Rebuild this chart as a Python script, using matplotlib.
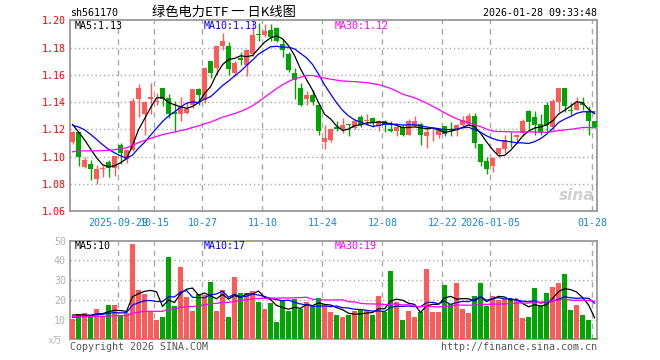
import numpy as np
import pandas as pd
import matplotlib
matplotlib.use("Agg")
import matplotlib.pyplot as plt

plt.rcParams['font.family'] = ['DejaVu Sans Mono', 'Noto Sans CJK SC']

# daily candles, 88 trading days (2025-09-17 .. 2026-01-28)
open_ = [1.111, 1.118, 1.0924, 1.0944, 1.0834, 1.0907, 1.0961, 1.0919, 1.1083, 1.0985,
         1.105, 1.142, 1.131, 1.142, 1.140, 1.150, 1.143, 1.1325, 1.1315, 1.132,
         1.138, 1.1495, 1.1415, 1.170, 1.165, 1.181, 1.181, 1.1613, 1.1723, 1.167,
         1.175, 1.190, 1.189, 1.193, 1.1945, 1.183, 1.175, 1.1615, 1.150, 1.142,
         1.1455, 1.138, 1.111, 1.112, 1.1215, 1.120, 1.124, 1.121, 1.129, 1.126,
         1.128, 1.1226, 1.1258, 1.1205, 1.119, 1.122, 1.116, 1.1226, 1.124, 1.115,
         1.1184, 1.1155, 1.1226, 1.1202, 1.120, 1.1233, 1.1238, 1.130, 1.1095, 1.097,
         1.0934, 1.102, 1.1057, 1.1142, 1.114, 1.1172, 1.1336, 1.129, 1.124, 1.1375,
         1.1215, 1.1404, 1.1505, 1.1338, 1.1344, 1.1393, 1.1335, 1.1258]
high = [1.119, 1.118, 1.100, 1.0973, 1.0937, 1.0937, 1.0973, 1.1005, 1.110, 1.105,
        1.143, 1.153, 1.141, 1.154, 1.147, 1.1505, 1.146, 1.141, 1.1435, 1.140,
        1.1495, 1.150, 1.1655, 1.170, 1.181, 1.191, 1.184, 1.170, 1.177, 1.179,
        1.200, 1.198, 1.197, 1.197, 1.195, 1.186, 1.177, 1.165, 1.154, 1.148,
        1.149, 1.1385, 1.123, 1.121, 1.126, 1.128, 1.124, 1.1275, 1.1307, 1.1315,
        1.129, 1.127, 1.127, 1.1263, 1.1233, 1.1233, 1.1275, 1.130, 1.125, 1.121,
        1.121, 1.121, 1.1226, 1.1253, 1.124, 1.1295, 1.132, 1.132, 1.1095, 1.100,
        1.0995, 1.1065, 1.116, 1.118, 1.1165, 1.1277, 1.134, 1.1336, 1.131, 1.140,
        1.1425, 1.1505, 1.1505, 1.139, 1.144, 1.144, 1.137, 1.126]
low = [1.109, 1.093, 1.0917, 1.0827, 1.0798, 1.0851, 1.0851, 1.0858, 1.0944, 1.0956,
       1.104, 1.129, 1.116, 1.131, 1.138, 1.137, 1.128, 1.118, 1.126, 1.131,
       1.136, 1.138, 1.139, 1.1575, 1.160, 1.178, 1.160, 1.159, 1.1675, 1.159,
       1.174, 1.185, 1.188, 1.185, 1.184, 1.173, 1.162, 1.142, 1.137, 1.1375,
       1.138, 1.116, 1.1058, 1.111, 1.119, 1.117, 1.115, 1.120, 1.122, 1.1233,
       1.1214, 1.119, 1.118, 1.118, 1.115, 1.115, 1.1155, 1.122, 1.1087, 1.106,
       1.1116, 1.1135, 1.115, 1.115, 1.1148, 1.122, 1.1222, 1.106, 1.0927, 1.087,
       1.0885, 1.0993, 1.1025, 1.1067, 1.1099, 1.115, 1.120, 1.116, 1.1155, 1.118,
       1.1196, 1.133, 1.133, 1.1307, 1.134, 1.1344, 1.1155, 1.121]
close = [1.118, 1.0993, 1.0973, 1.0907, 1.0907, 1.0919, 1.0919, 1.1005, 1.1024, 1.1049,
         1.141, 1.150, 1.140, 1.1435, 1.141, 1.1425, 1.1315, 1.1315, 1.1365, 1.135,
         1.1495, 1.1455, 1.165, 1.1613, 1.181, 1.185, 1.164, 1.169, 1.171, 1.178,
         1.189, 1.189, 1.1925, 1.1875, 1.185, 1.1785, 1.1638, 1.1563, 1.138, 1.1455,
         1.140, 1.1185, 1.1135, 1.1205, 1.120, 1.1233, 1.1235, 1.1263, 1.1233, 1.127,
         1.1245, 1.1258, 1.124, 1.119, 1.1214, 1.116, 1.1263, 1.1263, 1.1155, 1.118,
         1.1186, 1.120, 1.1165, 1.120, 1.1233, 1.127, 1.1295, 1.110, 1.096, 1.091,
         1.099, 1.1062, 1.1123, 1.114, 1.116, 1.1263, 1.1253, 1.1233, 1.118, 1.1233,
         1.141, 1.1505, 1.137, 1.1335, 1.1393, 1.1375, 1.1258, 1.1215]
# volume, 万手
volume = [10.2, 12.7, 13.4, 12.5, 15.3, 11.2, 17.3, 17.3, 11.7, 13.4,
          48.5, 24.9, 23.1, 14.1, 10.0, 11.1, 41.5, 16.7, 36.5, 21.2,
          14.1, 23.2, 22.4, 29.2, 14.1, 25.1, 11.1, 31.8, 23.7, 23.7,
          24.5, 18.8, 15.5, 18.3, 8.6, 19.7, 14.1, 20.6, 15.4, 18.7,
          16.6, 21.1, 16.7, 13.8, 12.2, 11.2, 12.2, 14.2, 14.7, 14.2,
          12.5, 21.9, 13.9, 34.6, 18.8, 9.8, 14.2, 11.2, 13.9, 35.6,
          13.9, 13.9, 27.5, 18.0, 28.5, 15.3, 13.4, 21.9, 28.5, 16.8,
          21.9, 19.7, 20.5, 20.2, 19.7, 10.8, 11.2, 25.8, 16.8, 23.4,
          26.4, 28.6, 33.0, 14.7, 17.3, 12.2, 9.8, 0.8]

# estimated closes / volumes of the 29 days before the window (only feed the MAs)
pre_close = [1.086, 1.089, 1.092, 1.090, 1.087, 1.086, 1.086, 1.083, 1.084, 1.085,
             1.090, 1.094, 1.097, 1.099, 1.101, 1.103, 1.104, 1.105, 1.106, 1.108,
             1.112, 1.118, 1.124, 1.128, 1.130, 1.127, 1.126, 1.124, 1.123]
pre_vol = [12, 10, 13, 11, 12, 14, 10, 11, 13, 12, 9, 11, 12, 13, 10, 12, 11, 12, 10, 13,
           9, 11, 10, 9, 10.5, 12, 14, 13, 12.3]

tick_idx = [8, 14, 22, 32, 42, 52, 62, 70, 87]
tick_lbl = ['2025-09-29', '10-15', '10-27', '11-10', '11-24', '12-08', '12-22', '2026-01-05', '01-28']
price_ticks = [1.06, 1.08, 1.10, 1.12, 1.14, 1.16, 1.18, 1.20]
vol_ticks = [10, 20, 30, 40, 50]

RED = '#ff5a5a'
GREEN = '#00a600'
GRID = '#aaaaaa'

n = len(close)
x = np.arange(n)
o = np.array(open_); c = np.array(close); h = np.array(high); l = np.array(low)
v = np.array(volume)
cols = [RED if cc >= oo else GREEN for oo, cc in zip(o, c)]

allc = pd.Series(pre_close + close)
allv = pd.Series(pre_vol + volume)
ma = {k: allc.rolling(k).mean().values[-n:] for k in (5, 10, 30)}
vma = {k: allv.rolling(k).mean().values[-n:] for k in (5, 10, 30)}

W, H = 660, 360
fig = plt.figure(figsize=(6.6, 3.6), dpi=100)

def box(l_, t_, r_, b_):
    return [l_ / W, 1 - b_ / H, (r_ - l_) / W, (b_ - t_) / H]

axp = fig.add_axes(box(70, 20.4, 597, 211))
axv = fig.add_axes(box(70, 240.7, 597, 339.3))

xl = (-0.42, 87.4)
grid_x = x[tick_idx] - 0.37

for ax in (axp, axv):
    ax.set_xlim(*xl)
    for s in ax.spines.values():
        s.set_color('#999999'); s.set_linewidth(1.3)
    for gx in grid_x:
        ax.axvline(gx, color=GRID, lw=1, ls=(0, (4, 3.5)), zorder=0)
    ax.tick_params(length=0)

# price panel
axp.vlines(x, l, h, colors=cols, lw=1, zorder=2)
body = np.maximum(np.abs(c - o), 0.00035)
axp.bar(x, body, bottom=np.minimum(o, c), width=0.78, color=cols, zorder=3)
axp.plot(x, ma[5], color='black', lw=0.9, zorder=4)
axp.plot(x, ma[10], color='#0000ff', lw=0.9, zorder=4)
axp.plot(x, ma[30], color='#ff00ff', lw=0.9, zorder=4)
axp.set_ylim(1.06, 1.20)
axp.set_yticks(price_ticks)
axp.set_yticklabels(['%.2f' % t for t in price_ticks], color='#ff0000', fontsize=7.2)
for t in price_ticks[1:-1]:
    axp.axhline(t, color=GRID, lw=1, ls=(0, (1, 2)), zorder=0)
axp.set_xticks(grid_x)
axp.set_xticklabels(tick_lbl, color='#1a87cf', fontsize=7.2)
axp.tick_params(axis='x', pad=5)
axp.tick_params(axis='y', pad=3)

# volume panel
axv.bar(x, v, width=0.78, color=cols, zorder=3)
axv.plot(x, vma[5], color='black', lw=0.9, zorder=4)
axv.plot(x, vma[10], color='#0000ff', lw=0.9, zorder=4)
axv.plot(x, vma[30], color='#ff00ff', lw=0.9, zorder=4)
axv.set_ylim(0, 50)
axv.set_yticks(vol_ticks)
axv.set_yticklabels([str(t) for t in vol_ticks], color='#b4b4b4', fontsize=7.2)
axv.tick_params(axis='y', pad=3)
for t in vol_ticks[:-1]:
    axv.axhline(t, color=GRID, lw=1, ls=(0, (1, 2)), zorder=0)
axv.set_xticks([])

def ftext(px, py, s, **kw):
    fig.text(px / W, 1 - py / H, s, **kw)

ftext(70, 13, 'sh561170', fontsize=7.2, va='center', ha='left')
ftext(224, 12.5, '绿色电力ETF 一 日K线图', fontsize=9.5, va='center', ha='center',
      family=['Noto Sans CJK SC', 'DejaVu Sans'])
ftext(597, 13, '2026-01-28 09:33:48', fontsize=7.2, va='center', ha='right')

ftext(75, 26, 'MA5:%.2f' % ma[5][-1], fontsize=7.2, va='center')
ftext(204, 26, 'MA10:%.2f' % ma[10][-1], fontsize=7.2, va='center', color='#0000ff')
ftext(335, 26, 'MA30:%.2f' % ma[30][-1], fontsize=7.2, va='center', color='#ff00ff')
ftext(75, 246, 'MA5:10', fontsize=7.2, va='center')
ftext(204, 246, 'MA10:17', fontsize=7.2, va='center', color='#0000ff')
ftext(335, 246, 'MA30:19', fontsize=7.2, va='center', color='#ff00ff')

ftext(48, 341, 'x万', fontsize=6.5, va='center', color='#b4b4b4')
ftext(70, 347, 'Copyright 2026 SINA.COM', fontsize=7.2, va='center', color='#555555')
ftext(597, 347, 'http://finance.sina.com.cn', fontsize=7.2, va='center', ha='right', color='#555555')
ftext(577, 196, 'sina', fontsize=11, va='center', ha='center', color='#d0d0d0',
      family='DejaVu Sans', weight='bold', style='italic')

fig.savefig('out.png', dpi=100)
